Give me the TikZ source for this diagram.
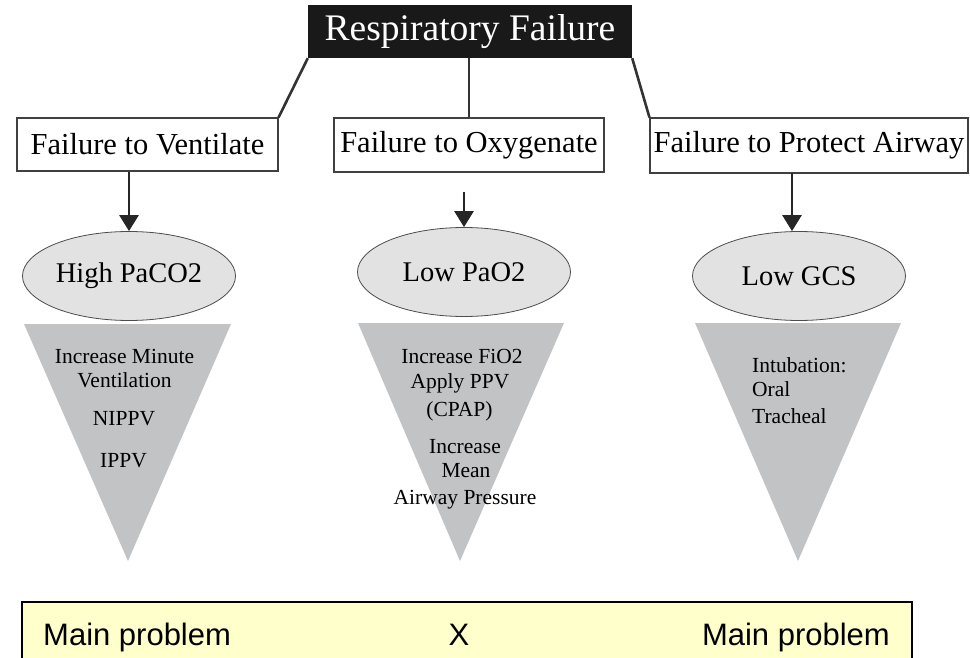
\documentclass[tikz,border=0pt]{standalone}
\usepackage{fontspec}
\setmainfont{Liberation Serif}
\newfontfamily\sansf{Liberation Sans}
\usetikzlibrary{shapes.geometric,arrows.meta}
\definecolor{conegray}{HTML}{C2C3C5}
\definecolor{ovalgray}{HTML}{E2E2E2}
\definecolor{paleyellow}{HTML}{FFFFCC}
\begin{document}
\begin{tikzpicture}[x=1pt,y=-1pt,
 titlebox/.style={fill=black!90,text=white,minimum width=324pt,minimum height=53pt,inner sep=0pt,font=\fontsize{37.5}{40}\selectfont},
 fbox/.style={draw=black!75,line width=1.1pt,fill=white,inner sep=0pt,font=\fontsize{30.5}{32}\selectfont},
 oval/.style={ellipse,draw=black!70,line width=0.8pt,fill=ovalgray,minimum width=213pt,minimum height=89pt,inner sep=0pt,font=\fontsize{28.5}{30}\selectfont},
 link/.style={draw=black!80,line width=2.6pt},
 arr/.style={draw=black!85,line width=2.8pt,-{Triangle[width=19pt,length=16pt]}},
 cone/.style={fill=conegray},
 ctext/.style={anchor=base,inner sep=0pt,font=\fontsize{21.5}{22}\selectfont},
 btext/.style={anchor=base,inner sep=0pt,font=\sansf\fontsize{31}{32}\selectfont}
]
\useasboundingbox (0,0) rectangle (970,658);

% title and first-level boxes
\node[titlebox] (title) at (470,31.5) {Respiratory Failure};
\node[fbox,minimum width=261pt,minimum height=53pt] (vent) at (147.5,144.5) {Failure to Ventilate};
\node[fbox,minimum width=270pt,minimum height=54pt] (oxy) at (469,145) {Failure to Oxygenate};
\node[fbox,minimum width=318pt,minimum height=55pt] (prot) at (809,145.5) {Failure to Protect Airway};

\draw[link] (title.south west) -- (vent.north east);
\draw[link] (oxy.north |- title.south) -- (oxy.north);
\draw[link] (title.south east) -- (prot.north west);

% cones
\fill[cone] (24,324) -- (231,324) -- (128,561) -- cycle;
\fill[cone] (358,323) -- (564,323) -- (460,561) -- cycle;
\fill[cone] (695,323) -- (901,323) -- (798,561) -- cycle;

% ovals
\node[oval] (e1) at (129,276) {High PaCO2};
\node[oval] (e2) at (464,272) {Low PaO2};
\node[oval] (e3) at (799,276) {Low GCS};

% arrows
\coordinate (a2) at (464,192);
\coordinate (a3) at (792,173);
\draw[arr] (e1.north |- vent.south) -- (e1.north);
\draw[arr] (a2) -- (e2.north);
\draw[arr] (a3) -- (a3 |- e3.north);

% cone texts
\node[ctext] (l1) at (124.5,363) {Increase Minute};
\node[ctext] (l2) at (124.5,387) {Ventilation};
\node[ctext] (l3) at (124,425) {NIPPV};
\node[ctext] (l4) at (123.5,467) {IPPV};

\node[ctext] (m1) at (462,363) {Increase FiO2};
\node[ctext] (m2) at (460,388) {Apply PPV};
\node[ctext] (m3) at (459.5,416) {(CPAP)};
\node[ctext] (m4) at (465,453) {Increase};
\node[ctext] (m5) at (466,477) {Mean};
\node[ctext] (m6) at (465,504) {Airway Pressure};

\node[ctext,anchor=base west] (r1) at (752,372) {Intubation:};
\node[ctext,anchor=base west] (r2) at (752,396) {Oral};
\node[ctext,anchor=base west] (r3) at (752,423) {Tracheal};

% bottom box
\node[draw=black,line width=1.5pt,fill=paleyellow,minimum width=890pt,minimum height=72pt,inner sep=0pt] (bbox) at (467,638) {};
\node[btext,anchor=base west] (b1) at (43,645) {Main problem};
\node[btext] (b2) at (459,645) {X};
\node[btext,anchor=base east] (b3) at (890,645) {Main problem};
\end{tikzpicture}
\end{document}
